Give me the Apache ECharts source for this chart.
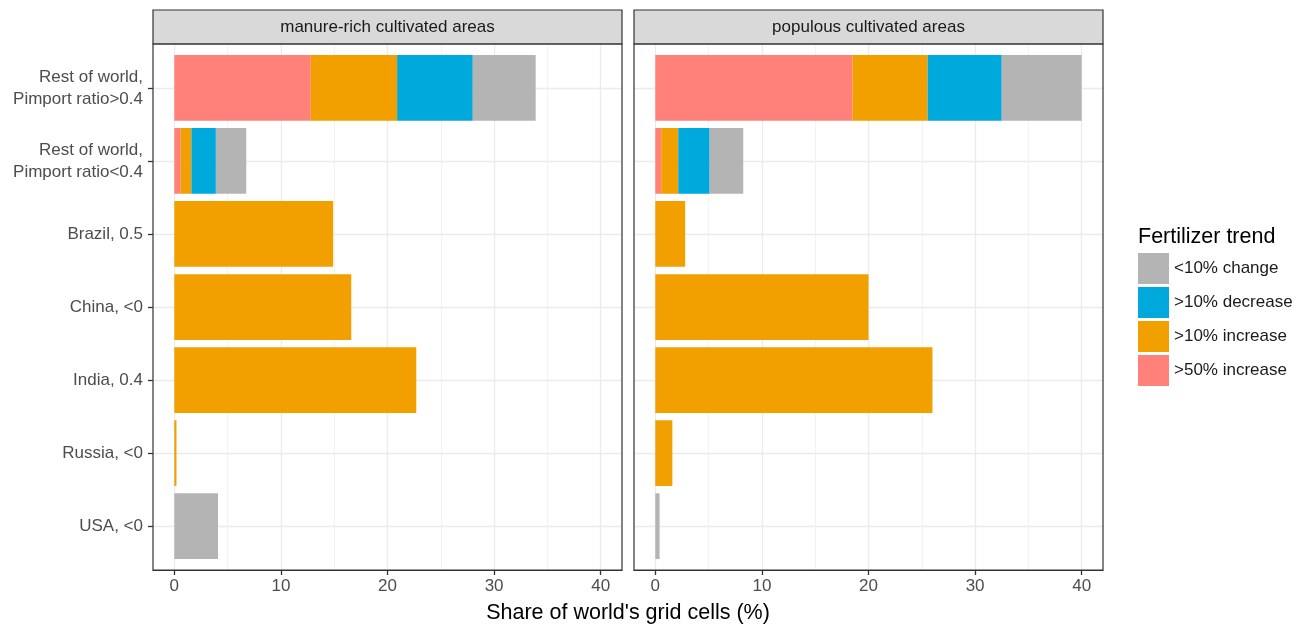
<!DOCTYPE html>
<html>
<head>
<meta charset="utf-8">
<script src="https://cdn.jsdelivr.net/npm/echarts@6/dist/echarts.min.js"></script>
<style>
html,body{margin:0;padding:0;background:#fff;}
#chart{width:1305px;height:625px;}
</style>
</head>
<body>
<div id="chart"></div>
<script>
// ---- data ----
const categories = ['Rest of world,\nPimport ratio>0.4', 'Rest of world,\nPimport ratio<0.4', 'Brazil, 0.5', 'China, <0', 'India, 0.4', 'Russia, <0', 'USA, <0'];
const panels = ['manure-rich cultivated areas', 'populous cultivated areas'];
const trendLevels = ['<10% change', '>10% decrease', '>10% increase', '>50% increase'];
const xTicks = [0, 10, 20, 30, 40];
const xMinorTicks = [5, 15, 25, 35];

// manure-rich cultivated areas
const manureIncrease50 = [12.8, 0.6, 0, 0, 0, 0, 0];
const manureIncrease10 = [8.1, 1.0, 14.9, 16.6, 22.7, 0.2, 0];
const manureDecrease10 = [7.1, 2.3, 0, 0, 0, 0, 0];
const manureChange10   = [5.9, 2.85, 0, 0, 0, 0, 4.1];

// populous cultivated areas
const populousIncrease50 = [18.5, 0.55, 0, 0, 0, 0, 0];
const populousIncrease10 = [7.05, 1.6, 2.8, 20.0, 26.0, 1.6, 0];
const populousDecrease10 = [6.95, 2.95, 0, 0, 0, 0, 0];
const populousChange10   = [7.5, 3.15, 0, 0, 0, 0, 0.4];

const colors = {
  '<10% change': '#b4b4b4',
  '>10% decrease': '#00a9db',
  '>10% increase': '#f29f00',
  '>50% increase': '#ff8179'
};

// ---- layout ----
const FONT = '"Liberation Sans", Arial, Helvetica, sans-serif';
const panelLeft = [153, 634];
const panelW = 469;
const panelTop = 44, panelBottom = 570;
const unit = (panelBottom - panelTop) / 7.2;   // discrete scale: 0.4 .. 7.6
const innerTop = panelTop + 0.6 * unit;
const innerH = 6 * unit;
const barW = 0.9 * unit;

const grids = [];
panelLeft.forEach(l => grids.push({left: l, top: panelTop, width: panelW, height: panelBottom - panelTop, containLabel: false}));
panelLeft.forEach(l => grids.push({left: l, top: innerTop, width: panelW, height: innerH, containLabel: false}));

const xAxes = [];
[0, 1].forEach(i => xAxes.push({
  type: 'value', gridIndex: i, min: -2, max: 42, position: 'bottom',
  axisLine: {show: true, onZero: false, lineStyle: {color: '#333', width: 1.2}},
  axisTick: {show: true, length: 5, lineStyle: {color: '#333', width: 1.3}, customValues: xTicks},
  axisLabel: {show: true, customValues: xTicks, color: '#4d4d4d', fontSize: 17, fontFamily: FONT, margin: 8},
  splitLine: {show: true, lineStyle: {color: '#ebebeb', width: 1.3}}
}));
[0, 1].forEach(i => xAxes.push({
  type: 'value', gridIndex: i, min: -2, max: 42,
  axisLine: {show: false, onZero: false}, axisLabel: {show: false},
  axisTick: {show: false, customValues: xMinorTicks},
  splitLine: {show: true, lineStyle: {color: '#f0f0f0', width: 0.8}}
}));
[2, 3].forEach(i => xAxes.push({
  type: 'value', gridIndex: i, min: -2, max: 42, show: false,
  axisLine: {onZero: false},
  splitLine: {show: false}
}));

const yAxes = [];
[0, 1].forEach(i => yAxes.push({type: 'value', gridIndex: i, show: false, min: 0, max: 1, axisLine: {onZero: false}}));
[2, 3].forEach(i => yAxes.push({
  type: 'category', gridIndex: i, data: categories, inverse: true, boundaryGap: false, position: 'left',
  axisLine: {show: false, onZero: false},
  axisTick: {show: i === 2, length: 5, interval: 0, lineStyle: {color: '#333', width: 1.3}},
  axisLabel: {show: i === 2, interval: 0, color: '#4d4d4d', fontSize: 17, fontFamily: FONT, margin: 10, lineHeight: 22, align: 'right'},
  splitLine: {show: true, interval: 0, lineStyle: {color: '#ebebeb', width: 1.3}}
}));

const panelData = [
  {'>50% increase': manureIncrease50, '>10% increase': manureIncrease10, '>10% decrease': manureDecrease10, '<10% change': manureChange10},
  {'>50% increase': populousIncrease50, '>10% increase': populousIncrease10, '>10% decrease': populousDecrease10, '<10% change': populousChange10}
];
const stackOrder = ['>50% increase', '>10% increase', '>10% decrease', '<10% change'];

const series = [];
panelData.forEach((pd, p) => {
  stackOrder.forEach(level => {
    series.push({
      type: 'bar', name: level, stack: 'panel' + p,
      xAxisIndex: 4 + p, yAxisIndex: 2 + p,
      barWidth: barW, clip: false,
      itemStyle: {color: colors[level]},
      emphasis: {disabled: true},
      data: pd[level].map(v => v === 0 ? '-' : v)
    });
  });
});

const graphics = [];
panelLeft.forEach((l, i) => {
  graphics.push({type: 'rect', z: 100, shape: {x: l, y: 10, width: panelW, height: panelTop - 10},
    style: {fill: '#d9d9d9', stroke: '#333', lineWidth: 1.2}});
  graphics.push({type: 'text', z: 101, x: l + panelW / 2, y: 27,
    style: {text: panels[i], fill: '#1a1a1a', font: '17px ' + FONT, textAlign: 'center', textVerticalAlign: 'middle'}});
  graphics.push({type: 'rect', z: 100, shape: {x: l, y: panelTop, width: panelW, height: panelBottom - panelTop},
    style: {fill: 'none', stroke: '#333', lineWidth: 1.2}});
});
graphics.push({type: 'text', z: 101, x: (panelLeft[0] + panelLeft[1] + panelW) / 2, y: 613,
  style: {text: "Share of world's grid cells (%)", fill: '#000', font: '21.5px ' + FONT, textAlign: 'center', textVerticalAlign: 'middle'}});
graphics.push({type: 'text', z: 101, x: 1138, y: 237,
  style: {text: 'Fertilizer trend', fill: '#000', font: '21.5px ' + FONT, textAlign: 'left', textVerticalAlign: 'middle'}});

const option = {
  animation: false,
  backgroundColor: '#fff',
  grid: grids,
  xAxis: xAxes,
  yAxis: yAxes,
  legend: {
    orient: 'vertical', left: 1138, top: 253, padding: 0,
    data: trendLevels, icon: 'rect', itemWidth: 31, itemHeight: 31, itemGap: 3,
    selectedMode: false,
    textStyle: {color: '#1a1a1a', fontSize: 17, fontFamily: FONT}
  },
  series: series,
  graphic: graphics
};

const chart = echarts.init(document.getElementById('chart'), null, {renderer: 'canvas'});
chart.setOption(option);
</script>
</body>
</html>
